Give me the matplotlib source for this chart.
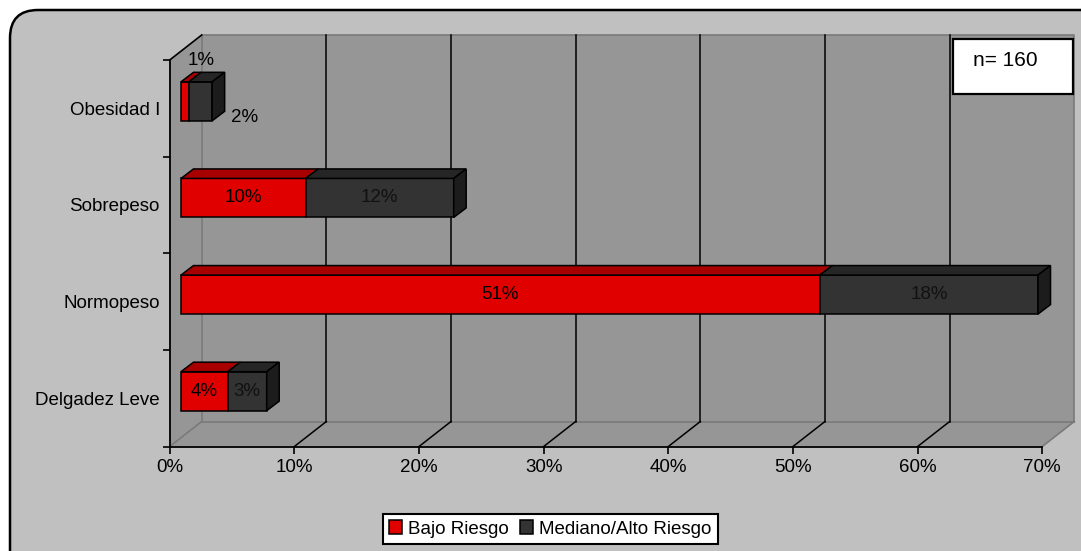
import matplotlib
matplotlib.use('Agg')
import matplotlib.pyplot as plt
from matplotlib.patches import Polygon, Rectangle, FancyBboxPatch
import numpy as np

plt.rcParams['font.family'] = ['Liberation Sans', 'DejaVu Sans']

# datos (porcentaje sobre n = 160)
categorias = ['Delgadez Leve', 'Normopeso', 'Sobrepeso', 'Obesidad I']
bajo = [3.75, 51.25, 10.0, 0.625]
mediano = [3.125, 17.5, 11.875, 1.875]
series = ['Bajo Riesgo', 'Mediano/Alto Riesgo']
xticks = [0, 10, 20, 30, 40, 50, 60, 70]
n_total = 160

W, H = 1081, 551
fs = 13.5
fig = plt.figure(figsize=(W / 100, H / 100), dpi=100)
fig.patch.set_facecolor('white')

# fondo gris con borde redondeado
bg = fig.add_axes([0, 0, 1, 1], zorder=-1)
bg.set_xlim(0, W)
bg.set_ylim(H, 0)
bg.axis('off')
bg.add_patch(FancyBboxPatch((10, 10), W + 40, H + 40,
                            boxstyle='round,pad=0,rounding_size=28',
                            fc='#c0c0c0', ec='black', lw=1.8))

# ejes principales (plano frontal)
x0, x1 = 169.7, 1042.3
y_top, y_bot = 60, 446.5
ax = fig.add_axes([x0 / W, 1 - y_bot / H, (x1 - x0) / W, (y_bot - y_top) / H])
xmax = 70
ymin, ymax = -0.5, 3.5
ax.set_xlim(0, xmax)
ax.set_ylim(ymin, ymax)
ax.patch.set_visible(False)

px_x = (x1 - x0) / xmax
px_y = (y_bot - y_top) / (ymax - ymin)
DX, DY = 32 / px_x, 25 / px_y   # profundidad de las paredes

wall = '#969696'
edge = '#7a7a7a'
kw = dict(clip_on=False, zorder=0)
ax.add_patch(Rectangle((DX, ymin + DY), xmax, ymax - ymin, fc=wall, ec='none', **kw))
ax.add_patch(Polygon([(0, ymin), (0, ymax), (DX, ymax + DY), (DX, ymin + DY)],
                     fc=wall, ec='none', **kw))
ax.add_patch(Polygon([(0, ymin), (xmax, ymin), (xmax + DX, ymin + DY), (DX, ymin + DY)],
                     fc=wall, ec='none', **kw))

# bordes de las paredes
lkw = dict(clip_on=False, zorder=1)
ax.plot([DX, DX + xmax, DX + xmax], [ymax + DY, ymax + DY, ymin + DY], color=edge, lw=1.2, **lkw)
ax.plot([DX, DX + xmax], [ymin + DY, ymin + DY], color=edge, lw=1.2, **lkw)
ax.plot([DX, DX], [ymin + DY, ymax + DY], color=edge, lw=1.2, **lkw)
ax.plot([0, DX], [ymin, ymin + DY], color=edge, lw=1.2, **lkw)
ax.plot([xmax, xmax + DX], [ymin, ymin + DY], color=edge, lw=1.2, **lkw)
ax.plot([0, DX], [ymax, ymax + DY], color='black', lw=1.2, **lkw)

# cuadricula
for t in xticks[1:-1]:
    ax.plot([t + DX, t + DX], [ymin + DY, ymax + DY], color='black', lw=1.1, **lkw)
    ax.plot([t, t + DX], [ymin, ymin + DY], color='black', lw=1.1, **lkw)

# barras 3D
bx, by = 11.3 / px_x, 7 / px_y
bh = 39 / px_y
ddx, ddy = 12.5 / px_x, 9.5 / px_y
ypos = np.arange(len(categorias)) + by
bajo_a = np.array(bajo)
med_a = np.array(mediano)

bkw = dict(height=bh, edgecolor='black', linewidth=1.1, zorder=5, clip_on=False)
b1 = ax.barh(ypos, bajo_a, left=bx, color='#e00000', label=series[0], **bkw)
b2 = ax.barh(ypos, med_a, left=bx + bajo_a, color='#333333', label=series[1], **bkw)

pkw = dict(ec='black', lw=1.1, zorder=5, clip_on=False)
for i in range(len(categorias)):
    yt = ypos[i] + bh / 2
    yb = ypos[i] - bh / 2
    segs = [(bx, bajo_a[i], '#a80000'), (bx + bajo_a[i], med_a[i], '#262626')]
    for s, w, c in segs:
        ax.add_patch(Polygon([(s, yt), (s + w, yt), (s + w + ddx, yt + ddy), (s + ddx, yt + ddy)],
                             fc=c, **pkw))
    e = bx + bajo_a[i] + med_a[i]
    ax.add_patch(Polygon([(e, yb), (e, yt), (e + ddx, yt + ddy), (e + ddx, yb + ddy)],
                         fc='#1c1c1c', **pkw))

# etiquetas de datos
for i in range(len(categorias)):
    lab1 = f'{bajo_a[i]:.0f}%' if bajo_a[i] >= 1 else '1%'
    lab2 = f'{med_a[i]:.0f}%'
    if bajo_a[i] + med_a[i] < 5:
        ax.annotate(lab1, (bx + bajo_a[i] / 2, ypos[i] + bh / 2), xytext=(16, 21),
                    textcoords='offset pixels', ha='center', va='center', fontsize=fs, zorder=6)
        ax.annotate(lab2, (bx + bajo_a[i] + med_a[i], ypos[i] - bh / 2), xytext=(32, 3),
                    textcoords='offset pixels', ha='center', va='center', fontsize=fs, zorder=6)
    else:
        ax.text(bx + bajo_a[i] / 2, ypos[i], lab1, ha='center', va='center', fontsize=fs, zorder=6)
        ax.text(bx + bajo_a[i] + med_a[i] / 2, ypos[i], lab2, ha='center', va='center',
                fontsize=fs, color='#111111', zorder=6)

# ejes
for s in ['top', 'right']:
    ax.spines[s].set_visible(False)
for s in ['left', 'bottom']:
    ax.spines[s].set_linewidth(1.3)
    ax.spines[s].set_zorder(3)
ax.set_xticks(xticks)
ax.set_xticklabels([f'{t}%' for t in xticks], fontsize=fs)
ax.tick_params(axis='x', length=5, width=1.2, pad=4)
ax.set_yticks(np.arange(ymin, ymax + 0.1, 1))
ax.set_yticklabels([])
ax.set_yticks(np.arange(len(categorias)), minor=True)
ax.set_yticklabels(categorias, minor=True, fontsize=fs)
ax.tick_params(axis='y', which='major', length=5, width=1.2)
ax.tick_params(axis='y', which='minor', length=0, pad=7)

# leyenda
leg = fig.legend(handles=[b1, b2], labels=series, loc='center',
                 bbox_to_anchor=(550 / W, 1 - 529 / H), ncol=2, fontsize=fs,
                 frameon=True, fancybox=False, edgecolor='black', framealpha=1,
                 handlelength=0.7, handleheight=0.7, handletextpad=0.3,
                 columnspacing=0.6, borderpad=0.35, borderaxespad=0)
leg.get_frame().set_linewidth(1.5)

# recuadro n
top = fig.add_axes([0, 0, 1, 1], zorder=10)
top.set_xlim(0, W)
top.set_ylim(H, 0)
top.axis('off')
top.add_patch(Rectangle((953, 38.5), 120, 55, fc='white', ec='black', lw=1.6))
top.text(973, 61, f'n= {n_total}', ha='left', va='center', fontsize=15)

fig.savefig('out.png', dpi=100)
